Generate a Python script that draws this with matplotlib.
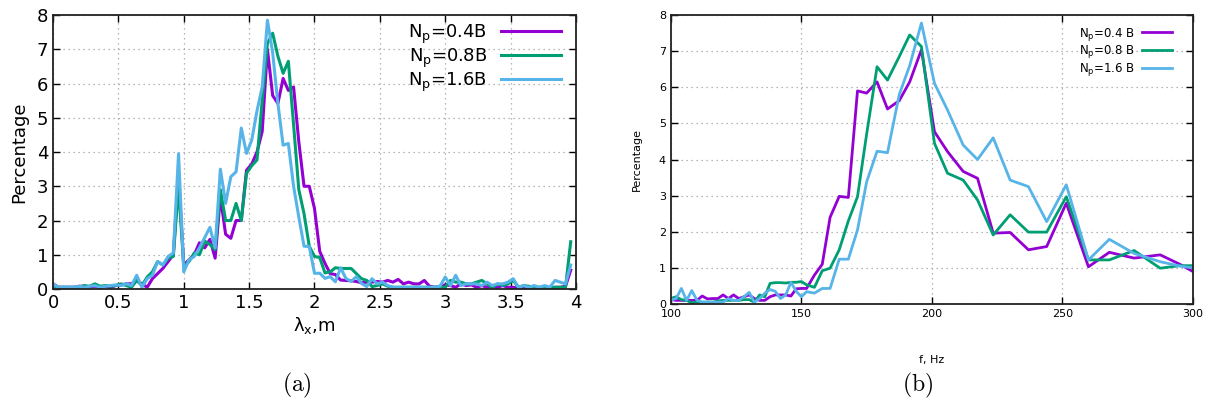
import numpy as np
from matplotlib import pyplot as plt

# (a) spectrum vs wavelength, step 0.04 m
lam = np.arange(100) * 0.04
lam_04 = [0.15, 0.05, 0.05, 0.05, 0.05, 0.08, 0.08, 0.06, 0.08, 0.05,
          0.08, 0.05, 0.1, 0.12, 0.15, 0.15, 0.25, 0.15, 0.05, 0.3,
          0.45, 0.6, 0.8, 1.0, 3.3, 0.7, 0.85, 1.0, 1.35, 1.2,
          1.45, 0.9, 2.7, 1.6, 1.48, 2.0, 2.0, 3.47, 3.65, 4.0,
          4.6, 7.0, 5.65, 5.42, 6.15, 5.8, 5.9, 4.3, 3.0, 3.0,
          2.35, 1.1, 0.75, 0.45, 0.42, 0.26, 0.25, 0.24, 0.22, 0.18,
          0.2, 0.2, 0.22, 0.2, 0.25, 0.2, 0.28, 0.15, 0.2, 0.15,
          0.15, 0.25, 0.08, 0.05, 0.08, 0.12, 0.1, 0.05, 0.15, 0.1,
          0.12, 0.05, 0.1, 0.05, 0.08, 0.05, 0.1, 0.05, 0.05, 0.02,
          0.05, 0.02, 0.05, 0.02, 0.05, 0.02, 0.05, 0.05, 0.08, 0.55]
lam_08 = [0.1, 0.05, 0.05, 0.05, 0.05, 0.05, 0.1, 0.08, 0.15, 0.08,
          0.1, 0.08, 0.1, 0.15, 0.1, 0.05, 0.25, 0.1, 0.35, 0.5,
          0.8, 0.7, 0.9, 0.95, 3.0, 0.65, 0.8, 1.05, 1.0, 1.4,
          1.3, 1.15, 2.9, 2.0, 2.0, 2.5, 2.0, 3.38, 3.6, 3.77,
          5.5, 7.17, 7.47, 6.8, 6.3, 6.65, 4.8, 2.9, 2.2, 1.25,
          0.95, 0.92, 0.47, 0.5, 0.62, 0.6, 0.6, 0.6, 0.45, 0.3,
          0.25, 0.07, 0.1, 0.15, 0.08, 0.05, 0.05, 0.05, 0.05, 0.05,
          0.05, 0.05, 0.05, 0.05, 0.05, 0.05, 0.25, 0.2, 0.2, 0.15,
          0.15, 0.2, 0.25, 0.15, 0.05, 0.15, 0.1, 0.15, 0.25, 0.05,
          0.1, 0.08, 0.05, 0.05, 0.05, 0.05, 0.05, 0.05, 0.05, 1.38]
lam_16 = [0.15, 0.05, 0.05, 0.05, 0.05, 0.08, 0.05, 0.08, 0.1, 0.05,
          0.08, 0.1, 0.12, 0.1, 0.15, 0.1, 0.4, 0.05, 0.3, 0.4,
          0.8, 0.7, 0.95, 1.05, 3.95, 0.5, 0.85, 0.95, 1.2, 1.5,
          1.8, 1.2, 3.5, 2.5, 3.28, 3.42, 4.7, 3.96, 4.35, 5.2,
          5.9, 7.85, 6.9, 5.42, 4.2, 4.25, 3.0, 2.1, 1.25, 1.24,
          0.46, 0.46, 0.31, 0.36, 0.21, 0.62, 0.31, 0.22, 0.36, 0.16,
          0.07, 0.3, 0.15, 0.2, 0.1, 0.05, 0.05, 0.05, 0.05, 0.05,
          0.05, 0.05, 0.05, 0.05, 0.08, 0.35, 0.1, 0.4, 0.1, 0.15,
          0.15, 0.15, 0.1, 0.2, 0.1, 0.15, 0.15, 0.2, 0.3, 0.05,
          0.1, 0.05, 0.1, 0.05, 0.1, 0.05, 0.25, 0.2, 0.15, 0.7]

# (b) spectrum vs frequency
freq = [100, 102, 104, 106, 108, 110, 112, 114, 116, 118, 120, 122, 124, 126,
        128, 130, 132, 134, 136, 138, 140, 142, 144, 146, 148, 150, 152, 155,
        158, 161, 164.5, 168, 171.5, 175, 179, 183, 187.5, 191.5, 196, 201,
        206, 212, 217.5, 223.5, 230, 237, 244, 251.5, 260, 268, 277.5, 287.5,
        295, 300]
f_04 = [0.12, 0.1, 0.1, 0.1, 0.1, 0.1, 0.22, 0.14, 0.15, 0.15, 0.25, 0.15,
        0.25, 0.15, 0.2, 0.25, 0.15, 0.1, 0.1, 0.2, 0.25, 0.25, 0.25, 0.22,
        0.42, 0.43, 0.43, 0.8, 1.1, 2.4, 2.98, 2.95, 5.9, 5.84, 6.15, 5.4,
        5.63, 6.15, 7.04, 4.77, 4.22, 3.67, 3.48, 1.96, 1.98, 1.5, 1.59, 2.79,
        1.03, 1.43, 1.27, 1.36, 1.1, 0.9]
f_08 = [0.15, 0.2, 0.12, 0.1, 0.03, 0.05, 0.05, 0.05, 0.05, 0.08, 0.1, 0.1,
        0.1, 0.1, 0.12, 0.12, 0.05, 0.25, 0.2, 0.57, 0.59, 0.59, 0.58, 0.6,
        0.6, 0.62, 0.53, 0.46, 0.92, 0.99, 1.5, 2.3, 2.97, 4.7, 6.57, 6.2,
        6.85, 7.45, 7.13, 4.45, 3.62, 3.43, 2.88, 1.91, 2.47, 1.99, 1.99, 2.97,
        1.22, 1.22, 1.48, 0.99, 1.06, 1.06]
f_16 = [0.11, 0.15, 0.43, 0.1, 0.37, 0.1, 0.05, 0.05, 0.05, 0.05, 0.05, 0.15,
        0.1, 0.1, 0.2, 0.32, 0.05, 0.15, 0.3, 0.4, 0.35, 0.15, 0.25, 0.6,
        0.35, 0.2, 0.34, 0.3, 0.43, 0.43, 1.24, 1.24, 2.05, 3.38, 4.23, 4.19,
        5.8, 6.6, 7.78, 6.11, 5.37, 4.4, 4.0, 4.6, 3.43, 3.25, 2.28, 3.3,
        1.22, 1.79, 1.4, 1.17, 1.05, 1.0]

colors = ['#9400D3', '#009E73', '#56B4E9']


def style_axes(ax, fs):
    ax.grid(True, color='#a0a0a0', linestyle=(0, (1, 3)), linewidth=0.9)
    ax.tick_params(direction='in', top=True, right=True, labelsize=fs,
                   length=5, width=1)
    for sp in ax.spines.values():
        sp.set_linewidth(1.3)
        sp.set_color('#222222')


fig = plt.figure(figsize=(12.11, 4.08), dpi=100)

ax1 = fig.add_axes([0.0438, 0.2917, 0.4318, 0.6713])
for y, c, lab in zip([lam_04, lam_08, lam_16], colors,
                     ['N$_{\\rm p}$=0.4B', 'N$_{\\rm p}$=0.8B', 'N$_{\\rm p}$=1.6B']):
    ax1.plot(lam, y, color=c, lw=2.2, label=lab)
ax1.set_xlim(0, 4)
ax1.set_ylim(0, 8)
ax1.set_xticks(np.arange(0, 4.01, 0.5))
ax1.set_xticklabels(['0', '0.5', '1', '1.5', '2', '2.5', '3', '3.5', '4'])
ax1.set_yticks(range(9))
style_axes(ax1, 13)
ax1.set_xlabel('λ$_{\\rm x}$,m', fontsize=13, labelpad=2)
ax1.set_ylabel('Percentage', fontsize=13, labelpad=6)
ax1.legend(loc='upper right', markerfirst=False, frameon=False, fontsize=13,
           handlelength=3.3, labelspacing=0.05, borderaxespad=0.0,
           handletextpad=0.8, bbox_to_anchor=(0.985, 1.0))

ax2 = fig.add_axes([0.554, 0.255, 0.431, 0.708])
for y, c, lab in zip([f_04, f_08, f_16], colors,
                     ['N$_{\\rm p}$=0.4 B', 'N$_{\\rm p}$=0.8 B', 'N$_{\\rm p}$=1.6 B']):
    ax2.plot(freq, y, color=c, lw=2.0, label=lab)
ax2.set_xlim(100, 300)
ax2.set_ylim(0, 8)
ax2.set_xticks([100, 150, 200, 250, 300])
ax2.set_yticks(range(9))
style_axes(ax2, 8)
ax2.set_xlabel('f, Hz', fontsize=8, labelpad=26)
ax2.set_ylabel('Percentage', fontsize=8, labelpad=12)
ax2.legend(loc='upper right', markerfirst=False, frameon=False, fontsize=8.5,
           handlelength=2.6, labelspacing=0.05, borderaxespad=0.0,
           handletextpad=0.6, bbox_to_anchor=(0.97, 0.98))

fig.text(0.245, 0.056, '$\\mathrm{(a)}$', fontsize=17, math_fontfamily='cm',
         ha='center', va='center')
fig.text(0.758, 0.056, '$\\mathrm{(b)}$', fontsize=17, math_fontfamily='cm',
         ha='center', va='center')

fig.savefig('out.png', dpi=100)
